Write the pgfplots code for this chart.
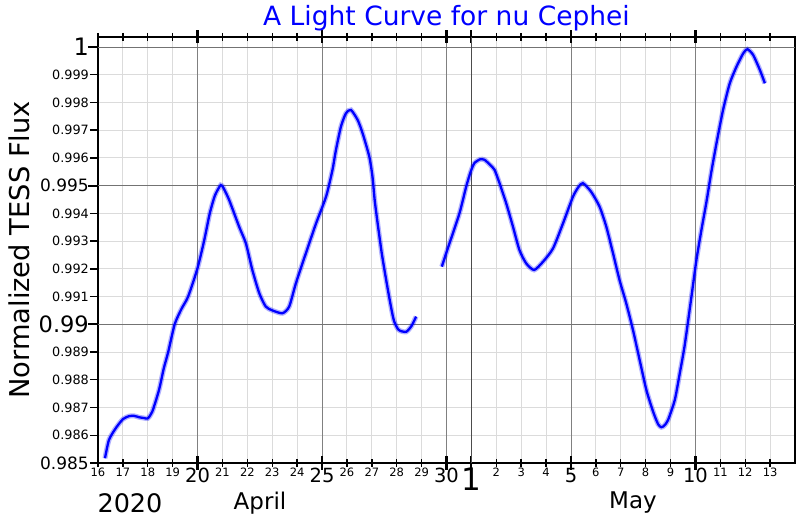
\documentclass[border=0pt]{standalone}
\usepackage{fontspec}
\setmainfont{DejaVu Sans}
\usepackage{pgfplots}
\usepackage{pgfplotstable}
\pgfplotsset{compat=1.18}
\newcommand{\fs}[1]{\fontsize{#1bp}{#1bp}\selectfont}

% day of April (May 1 = 31), normalized flux
\pgfplotstableread{
d f
16.28 0.98517
16.44 0.98583
16.71 0.98625
17.00 0.98658
17.25 0.98669
17.45 0.98670
17.65 0.98665
17.85 0.98662
18.00 0.98661
18.18 0.98685
18.45 0.98763
18.64 0.98840
18.82 0.98900
19.08 0.99000
19.35 0.99055
19.62 0.99100
19.99 0.99200
20.26 0.99300
20.49 0.99400
20.70 0.99465
20.93 0.99502
21.05 0.99490
21.27 0.99448
21.67 0.99352
21.94 0.99292
22.20 0.99196
22.48 0.99112
22.74 0.99064
23.01 0.99050
23.41 0.99040
23.68 0.99064
23.95 0.99148
24.35 0.99256
24.76 0.99364
25.16 0.99460
25.42 0.99557
25.56 0.99629
25.76 0.99713
25.96 0.99761
26.16 0.99773
26.43 0.99737
26.63 0.99689
26.90 0.99604
27.03 0.99530
27.13 0.99436
27.40 0.99256
27.67 0.99112
27.88 0.99016
28.08 0.98980
28.38 0.98973
28.60 0.98995
28.78 0.99028
}\segA

\pgfplotstableread{
d f
29.81 0.99208
30.12 0.99292
30.52 0.99400
30.79 0.99496
30.97 0.99550
31.12 0.99581
31.35 0.99595
31.53 0.99593
31.75 0.99575
31.93 0.99557
32.13 0.99509
32.40 0.99436
32.67 0.99352
32.93 0.99268
33.20 0.99220
33.52 0.99196
33.88 0.99226
34.28 0.99274
34.68 0.99364
35.08 0.99460
35.30 0.99495
35.48 0.99509
35.81 0.99478
36.15 0.99424
36.42 0.99352
36.69 0.99256
36.95 0.99160
37.22 0.99076
37.49 0.98980
37.76 0.98871
38.03 0.98763
38.30 0.98685
38.50 0.98640
38.63 0.98629
38.75 0.98635
38.90 0.98655
39.17 0.98727
39.37 0.98823
39.57 0.98925
39.84 0.99100
40.04 0.99232
40.24 0.99340
40.44 0.99440
40.64 0.99550
40.84 0.99650
41.11 0.99773
41.38 0.99869
41.65 0.99929
41.92 0.99977
42.09 0.99992
42.32 0.99971
42.59 0.99917
42.79 0.99869
}\segB

\begin{document}
\begin{tikzpicture}
\useasboundingbox (-98bp,-57bp) rectangle (702bp,463bp);
\begin{axis}[
    at={(0,0)}, anchor=south west,
    scale only axis, width=697bp, height=426bp,
    xmin=16, xmax=44, ymin=0.985, ymax=1.00036,
    axis line style={line width=2.2bp},
    xtick={16,...,43},
    xticklabels={{\fs{11.5}16},{\fs{11.5}17},{\fs{11.5}18},{\fs{11.5}19},{\fs{19.5}20},
      {\fs{11.5}21},{\fs{11.5}22},{\fs{11.5}23},{\fs{11.5}24},{\fs{19.5}25},
      {\fs{11.5}26},{\fs{11.5}27},{\fs{11.5}28},{\fs{11.5}29},{\fs{19.5}30},
      {\fs{31}1},{\fs{11.5}2},{\fs{11.5}3},{\fs{11.5}4},{\fs{19.5}5},
      {\fs{11.5}6},{\fs{11.5}7},{\fs{11.5}8},{\fs{11.5}9},{\fs{19.5}10},
      {\fs{11.5}11},{\fs{11.5}12},{\fs{11.5}13}},
    ytick={0.985,0.986,0.987,0.988,0.989,0.99,0.991,0.992,0.993,0.994,0.995,0.996,0.997,0.998,0.999,1},
    yticklabels={{\fs{17}0.985},{\fs{12.8}0.986},{\fs{12.8}0.987},{\fs{12.8}0.988},{\fs{12.8}0.989},
      {\fs{22.5}0.99},{\fs{12.8}0.991},{\fs{12.8}0.992},{\fs{12.8}0.993},{\fs{12.8}0.994},
      {\fs{17}0.995},{\fs{12.8}0.996},{\fs{12.8}0.997},{\fs{12.8}0.998},{\fs{12.8}0.999},
      {\fs{24}1}},
    xtick align=center,
    ytick align=outside, ytick pos=left,
    major tick length=8bp,
    tick style={black, line width=1.4bp},
    grid=major,
    major grid style={black!14, line width=0.9bp},
    extra x ticks={20,25,30,31,35,40},
    extra x tick labels={},
    extra x tick style={major grid style={black!50, line width=0.9bp},
      major tick length=13bp, tick style={line width=2.2bp}},
    extra y ticks={0.99,0.995,1},
    extra y tick labels={},
    extra y tick style={major grid style={black!55, line width=0.9bp},
      major tick length=10bp, tick style={line width=2bp}},
    xticklabel style={anchor=north, inner sep=1bp},
    yticklabel style={anchor=east, inner sep=1bp},
    clip=false,
]
\draw[black!70, line width=1.6bp] (axis cs:31,0.985) -- (axis cs:31,1.00036);
\addplot[blue, opacity=0.3, line width=5bp, no markers, smooth, tension=0.4] table[x=d, y=f] {\segA};
\addplot[blue, line width=2.3bp, no markers, smooth, tension=0.4] table[x=d, y=f] {\segA};
\addplot[blue, opacity=0.3, line width=5bp, no markers, smooth, tension=0.4] table[x=d, y=f] {\segB};
\addplot[blue, line width=2.3bp, no markers, smooth, tension=0.4] table[x=d, y=f] {\segB};
\end{axis}
\node[blue, font=\fs{26.5}] at (348.5bp,445bp) {A Light Curve for nu Cephei};
\node[rotate=90, font=\fs{27.3}] at (-79bp,213bp) {Normalized TESS Flux};
\node[font=\fs{25.5}] at (32bp,-40bp) {2020};
\node[font=\fs{23}] at (162bp,-40bp) {April};
\node[font=\fs{23}] at (535bp,-40bp) {May};
\end{tikzpicture}
\end{document}
